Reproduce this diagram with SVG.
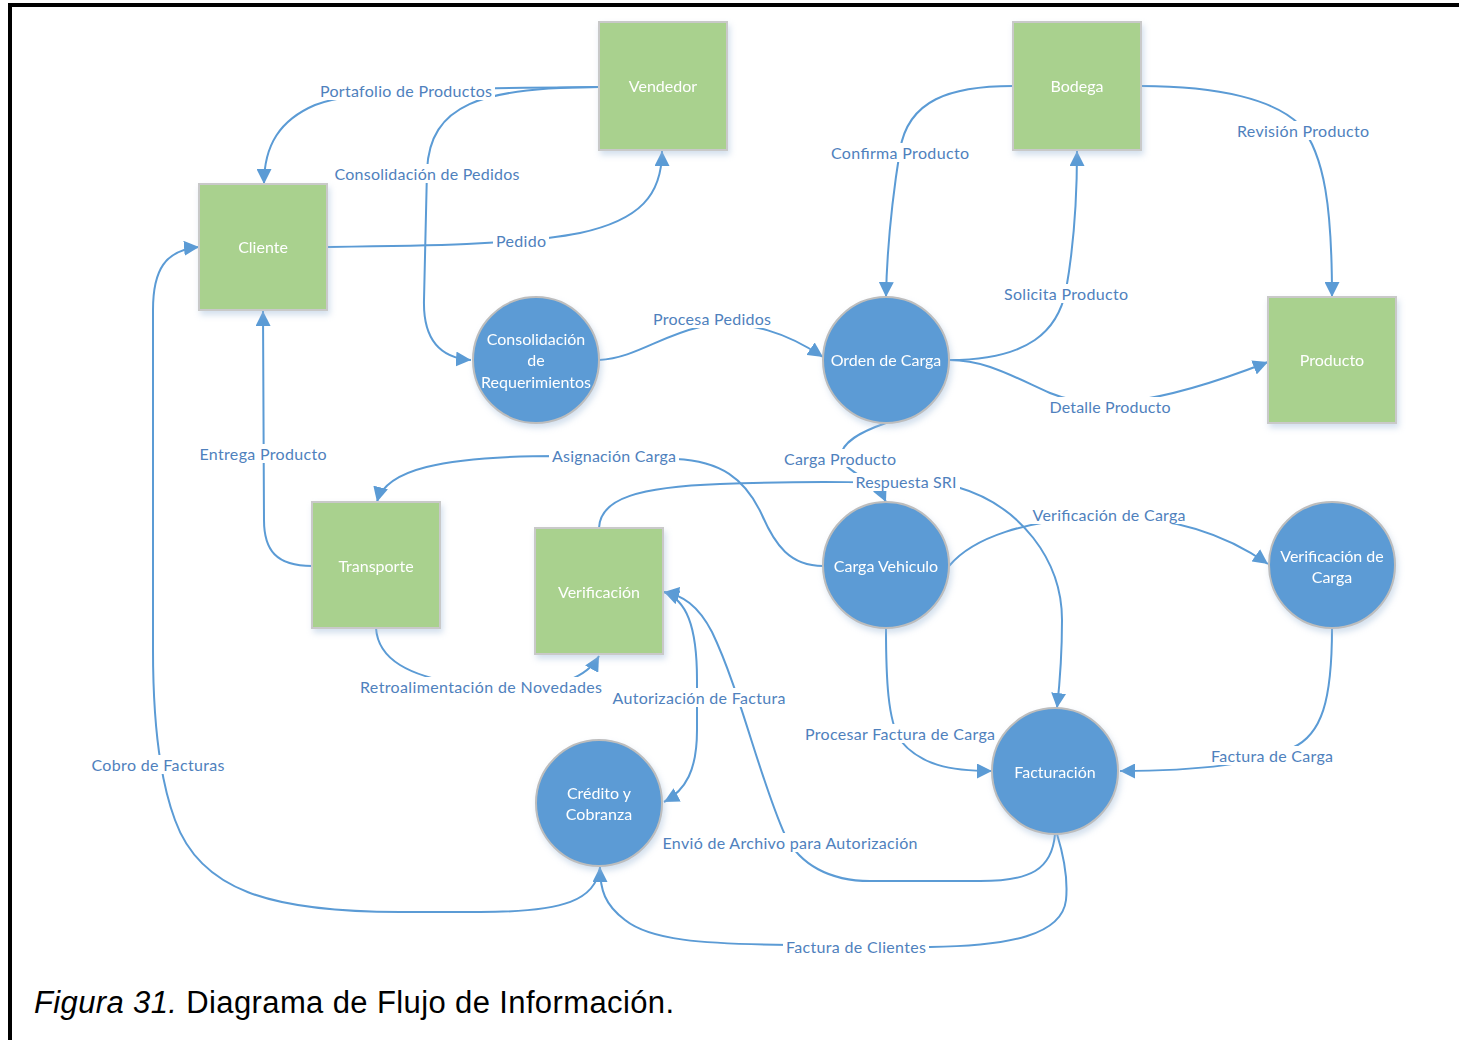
<svg xmlns="http://www.w3.org/2000/svg" width="1459" height="1040" viewBox="0 0 1459 1040">
  <style>
    .sq { fill: #A9D18E; stroke: #C9C9C9; stroke-width: 2; }
    .ci { fill: #5B9BD5; stroke: #BDBDBD; stroke-width: 2; }
    .nt { font-family: Lato, "Open Sans", sans-serif; font-size: 16px; fill: #FFFFFF; text-anchor: middle; }
    .ln { fill: none; stroke: #5B9BD5; stroke-width: 2; }
    .lb { font-family: Lato, "Open Sans", sans-serif; font-size: 16px; fill: #4F81BD; text-anchor: middle; }
    .bg { fill: #FFFFFF; }
    .cap { font-family: "Liberation Sans", Arial, sans-serif; font-size: 31px; fill: #000000; }
  </style>
  <defs>
    <marker id="arrow" markerUnits="userSpaceOnUse" markerWidth="16" markerHeight="15" refX="15" refY="7.5" orient="auto-start-reverse">
      <path d="M0,0 L15,7.5 L0,15 Z" fill="#5B9BD5"/>
    </marker>
    <filter id="shadow" x="-20%" y="-20%" width="150%" height="150%">
      <feDropShadow dx="2" dy="4" stdDeviation="3" flood-color="#9DB9D8" flood-opacity="0.45"/>
    </filter>
  </defs>

  <rect width="1459" height="1040" fill="#FFFFFF"/>
  <!-- page frame -->
  <rect x="10" y="5" width="1470" height="1050" fill="none" stroke="#000000" stroke-width="4"/>

  <!-- connectors -->
  <g id="connectors">
    <path class="ln" d="M599,87 C470,88 360,88 315,105 C280,120 264,145 264,184" marker-end="url(#arrow)"/>
    <path class="ln" d="M599,87 C480,87 430,105 427,170 L424,300 C423,340 440,358 471,360" marker-end="url(#arrow)"/>
    <path class="ln" d="M327,247 C420,246 520,245 580,233 C640,220 662,195 662,151" marker-end="url(#arrow)"/>
    <path class="ln" d="M1013,86 C950,86 908,100 900,150 C892,200 887,245 886,297" marker-end="url(#arrow)"/>
    <path class="ln" d="M1141,86 C1220,86 1275,100 1300,125 C1325,155 1332,210 1332,297" marker-end="url(#arrow)"/>
    <path class="ln" d="M949,360 C1030,360 1058,330 1066,290 C1074,245 1077,200 1077,151" marker-end="url(#arrow)"/>
    <path class="ln" d="M949,360 C985,360 1010,375 1050,393 C1090,410 1150,408 1268,362" marker-end="url(#arrow)"/>
    <path class="ln" d="M599,360 C635,358 660,336 700,327 C750,318 790,335 823,357" marker-end="url(#arrow)"/>
    <path class="ln" d="M886,423 C860,432 842,442 841,456 C840,470 875,478 886,502" marker-end="url(#arrow)"/>
    <path class="ln" d="M823,566 C790,566 775,545 762,515 C745,478 720,461 676,459 L560,456 C440,456 385,470 377,502" marker-end="url(#arrow)"/>
    <path class="ln" d="M599,528 C600,498 640,487 720,484 C800,481 900,481 957,487 C1020,505 1062,560 1062,620 C1062,660 1059,690 1057,708" marker-end="url(#arrow)"/>
    <path class="ln" d="M949,566 C975,535 1030,522 1080,518 C1160,512 1220,530 1268,564" marker-end="url(#arrow)"/>
    <path class="ln" d="M1332,628 C1332,700 1322,735 1292,748 C1262,763 1200,771 1120,771" marker-end="url(#arrow)"/>
    <path class="ln" d="M886,628 C886,680 888,720 900,740 C920,765 950,771 992,771" marker-end="url(#arrow)"/>
    <path class="ln" d="M1055,834 C1052,870 1030,881 980,881 L870,881 C830,881 800,865 785,835 C760,780 740,690 712,632 C698,605 682,595 664,592" marker-end="url(#arrow)"/>
    <path class="ln" d="M664,592 C686,600 697,625 697,680 L697,730 C697,770 686,790 664,802" marker-start="url(#arrow)" marker-end="url(#arrow)"/>
    <path class="ln" d="M312,566 C276,566 264,550 264,520 L263,311" marker-end="url(#arrow)"/>
    <path class="ln" d="M376,628 C378,660 410,676 460,684 C520,692 580,690 599,656" marker-end="url(#arrow)"/>
    <path class="ln" d="M1057,834 C1065,860 1068,880 1066,900 C1062,935 1010,946 930,947 L790,945 C700,944 650,940 625,920 C605,905 600,890 600,867" marker-end="url(#arrow)"/>
    <path class="ln" d="M600,867 C596,900 565,912 480,912 L400,912 C270,912 200,890 175,820 C160,780 153,720 153,650 L153,310 C153,270 165,250 199,247" marker-end="url(#arrow)"/>
  </g>

  <!-- connector labels -->
  <g id="labels">
    <rect class="bg" x="317" y="81" width="178" height="19"/><text class="lb" x="406" y="97" textLength="172">Portafolio de Productos</text>
    <rect class="bg" x="332" y="164" width="191" height="19"/><text class="lb" x="427" y="180" textLength="185">Consolidación de Pedidos</text>
    <rect class="bg" x="493" y="231" width="56" height="19"/><text class="lb" x="521" y="247" textLength="50">Pedido</text>
    <rect class="bg" x="828" y="143" width="144" height="19"/><text class="lb" x="900" y="159" textLength="138">Confirma Producto</text>
    <rect class="bg" x="1234" y="121" width="138" height="19"/><text class="lb" x="1303" y="137" textLength="132">Revisión Producto</text>
    <rect class="bg" x="1001" y="284" width="130" height="19"/><text class="lb" x="1066" y="300" textLength="124">Solicita Producto</text>
    <rect class="bg" x="650" y="309" width="124" height="19"/><text class="lb" x="712" y="325" textLength="118">Procesa Pedidos</text>
    <rect class="bg" x="1047" y="397" width="127" height="19"/><text class="lb" x="1110" y="413" textLength="121">Detalle Producto</text>
    <rect class="bg" x="197" y="444" width="133" height="19"/><text class="lb" x="263" y="460" textLength="127">Entrega Producto</text>
    <rect class="bg" x="549" y="446" width="130" height="19"/><text class="lb" x="614" y="462" textLength="124">Asignación Carga</text>
    <rect class="bg" x="781" y="449" width="118" height="18"/><text class="lb" x="840" y="465" textLength="112">Carga Producto</text>
    <rect class="bg" x="853" y="473" width="107" height="18"/><text class="lb" x="906" y="488" textLength="101">Respuesta SRI</text>
    <rect class="bg" x="1030" y="505" width="159" height="19"/><text class="lb" x="1109" y="521" textLength="153">Verificación de Carga</text>
    <rect class="bg" x="357" y="677" width="248" height="19"/><text class="lb" x="481" y="693" textLength="242">Retroalimentación de Novedades</text>
    <rect class="bg" x="610" y="688" width="179" height="19"/><text class="lb" x="699" y="704" textLength="173">Autorización de Factura</text>
    <rect class="bg" x="802" y="724" width="196" height="19"/><text class="lb" x="900" y="740" textLength="190">Procesar Factura de Carga</text>
    <rect class="bg" x="1208" y="746" width="128" height="19"/><text class="lb" x="1272" y="762" textLength="122">Factura de Carga</text>
    <rect class="bg" x="89" y="755" width="139" height="19"/><text class="lb" x="158" y="771" textLength="133">Cobro de Facturas</text>
    <rect class="bg" x="660" y="833" width="261" height="19"/><text class="lb" x="790" y="849" textLength="255">Envió de Archivo para Autorización</text>
    <rect class="bg" x="783" y="937" width="146" height="19"/><text class="lb" x="856" y="953" textLength="140">Factura de Clientes</text>
  </g>

  <!-- external entities -->
  <g id="vendedor" filter="url(#shadow)">
    <rect class="sq" x="599" y="22" width="128" height="128"/>
    <text class="nt" x="663" y="92">Vendedor</text>
  </g>
  <g id="bodega" filter="url(#shadow)">
    <rect class="sq" x="1013" y="22" width="128" height="128"/>
    <text class="nt" x="1077" y="92">Bodega</text>
  </g>
  <g id="cliente" filter="url(#shadow)">
    <rect class="sq" x="199" y="184" width="128" height="126"/>
    <text class="nt" x="263" y="253">Cliente</text>
  </g>
  <g id="producto" filter="url(#shadow)">
    <rect class="sq" x="1268" y="297" width="128" height="126"/>
    <text class="nt" x="1332" y="366">Producto</text>
  </g>
  <g id="transporte" filter="url(#shadow)">
    <rect class="sq" x="312" y="502" width="128" height="126"/>
    <text class="nt" x="376" y="572">Transporte</text>
  </g>
  <g id="verificacion" filter="url(#shadow)">
    <rect class="sq" x="535" y="528" width="128" height="126"/>
    <text class="nt" x="599" y="598">Verificación</text>
  </g>

  <!-- processes -->
  <g id="consolidacion" filter="url(#shadow)">
    <circle class="ci" cx="536" cy="360" r="63"/>
    <text class="nt" x="536" y="345">Consolidación</text>
    <text class="nt" x="536" y="366">de</text>
    <text class="nt" x="536" y="388">Requerimientos</text>
  </g>
  <g id="orden-carga" filter="url(#shadow)">
    <circle class="ci" cx="886" cy="360" r="63"/>
    <text class="nt" x="886" y="366">Orden de Carga</text>
  </g>
  <g id="carga-vehiculo" filter="url(#shadow)">
    <circle class="ci" cx="886" cy="565" r="63"/>
    <text class="nt" x="886" y="572">Carga Vehiculo</text>
  </g>
  <g id="verificacion-carga" filter="url(#shadow)">
    <circle class="ci" cx="1332" cy="565" r="63"/>
    <text class="nt" x="1332" y="562">Verificación de</text>
    <text class="nt" x="1332" y="583">Carga</text>
  </g>
  <g id="facturacion" filter="url(#shadow)">
    <circle class="ci" cx="1055" cy="771" r="63"/>
    <text class="nt" x="1055" y="778">Facturación</text>
  </g>
  <g id="credito-cobranza" filter="url(#shadow)">
    <circle class="ci" cx="599" cy="803" r="63"/>
    <text class="nt" x="599" y="799">Crédito y</text>
    <text class="nt" x="599" y="820">Cobranza</text>
  </g>

  <!-- caption -->
  <text class="cap" x="34" y="1013" textLength="640"><tspan font-style="italic">Figura 31.</tspan> Diagrama de Flujo de Información.</text>
</svg>
